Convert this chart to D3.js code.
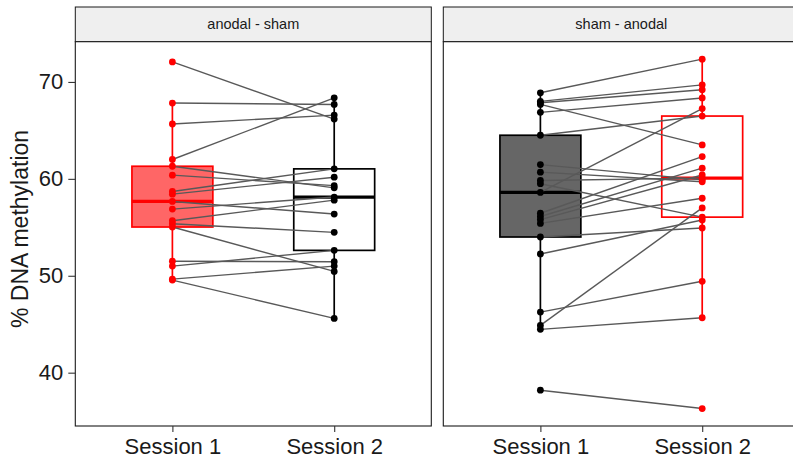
<!DOCTYPE html>
<html>
<head>
<meta charset="utf-8">
<script src="https://cdn.jsdelivr.net/npm/d3@7"></script>
<style>
  html, body { margin: 0; padding: 0; background: #fff; }
  svg { display: block; font-family: "Liberation Sans", Arial, Helvetica, sans-serif; }
</style>
</head>
<body>
<svg id="chart" width="793" height="462"></svg>
<script>
// Sessions on the x axis and the two stimulation orders (facets)
const sessions = ["Session 1", "Session 2"];
const groups = ["anodal - sham", "sham - anodal"];
const yTicks = [40, 50, 60, 70];

// % DNA methylation per participant; same index = same participant
const anodalShamS1 = [72.07, 67.82, 65.66, 62.0, 61.3, 60.38, 58.7, 58.42, 57.67, 56.88, 55.68, 55.37, 55.03, 51.5, 51.0, 49.65, 49.55];
const anodalShamS2 = [66.17, 67.68, 66.58, 68.36, 59.07, 59.3, 61.03, 60.17, 56.37, 58.12, 57.8, 54.48, 50.45, 51.45, 52.62, 51.0, 45.6];

const shamAnodalS1 = [68.88, 68.0, 67.85, 67.68, 66.86, 64.5, 61.47, 60.69, 59.83, 59.5, 58.6, 56.45, 56.12, 55.8, 55.4, 54.0, 52.25, 46.25, 44.88, 44.47, 38.19];
const shamAnodalS2 = [72.35, 69.7, 69.2, 63.5, 68.35, 66.48, 59.9, 59.7, 60.07, 56.05, 67.25, 62.3, 61.1, 60.4, 58.0, 54.93, 55.75, 49.43, 57.0, 45.67, 36.3];

const svg = d3.select("#chart");

// layout
const plotTop = 41.7, plotBottom = 426, stripTop = 7;
const panelW = 356;
const panelX = [75.3, 443.3];

const panels = [
  { label: groups[0], values: [anodalShamS1, anodalShamS2],
    stroke: ["#ff0000", "#000000"], fill: ["#ff6666", "#ffffff"] },
  { label: groups[1], values: [shamAnodalS1, shamAnodalS2],
    stroke: ["#000000", "#ff0000"], fill: ["#666666", "#ffffff"] }
];

// shared y scale with 5% expansion of the data range
const all = [].concat(anodalShamS1, anodalShamS2, shamAnodalS1, shamAnodalS2);
const [lo, hi] = d3.extent(all);
const pad = (hi - lo) * 0.05;
const y = d3.scaleLinear().domain([lo - pad, hi + pad]).range([plotBottom, plotTop]);

// x scale within a panel (discrete, 0.6 expansion)
const x = d3.scalePoint().domain(sessions).range([0, panelW]).padding(0.6);
const boxW = x.step() * 0.5;

function boxStats(v) {
  const s = v.slice().sort(d3.ascending);
  const q1 = d3.quantile(s, 0.25), med = d3.quantile(s, 0.5), q3 = d3.quantile(s, 0.75);
  const iqr = q3 - q1;
  const wLo = d3.min(s.filter(d => d >= q1 - 1.5 * iqr));
  const wHi = d3.max(s.filter(d => d <= q3 + 1.5 * iqr));
  return { q1, med, q3, wLo, wHi };
}

panels.forEach((p, pi) => {
  const g = svg.append("g").attr("transform", `translate(${panelX[pi]},0)`);

  // strip
  g.append("rect")
    .attr("x", 0).attr("y", stripTop)
    .attr("width", panelW).attr("height", plotTop - stripTop)
    .attr("fill", "#efefef").attr("stroke", "#1a1a1a").attr("stroke-width", 1);
  g.append("text")
    .attr("x", panelW / 2).attr("y", (stripTop + plotTop) / 2)
    .attr("dy", "0.35em").attr("text-anchor", "middle")
    .attr("font-size", 14.5).attr("fill", "#1a1a1a")
    .text(p.label);

  // panel background
  g.append("rect")
    .attr("x", 0).attr("y", plotTop)
    .attr("width", panelW).attr("height", plotBottom - plotTop)
    .attr("fill", "#ffffff");

  // boxplots
  sessions.forEach((s, si) => {
    const st = boxStats(p.values[si]);
    const cx = x(s);
    const col = p.stroke[si];
    g.append("line")
      .attr("x1", cx).attr("x2", cx).attr("y1", y(st.wHi)).attr("y2", y(st.q3))
      .attr("stroke", col).attr("stroke-width", 1.7);
    g.append("line")
      .attr("x1", cx).attr("x2", cx).attr("y1", y(st.q1)).attr("y2", y(st.wLo))
      .attr("stroke", col).attr("stroke-width", 1.7);
    g.append("rect")
      .attr("x", cx - boxW / 2).attr("y", y(st.q3))
      .attr("width", boxW).attr("height", y(st.q1) - y(st.q3))
      .attr("fill", p.fill[si]).attr("stroke", col).attr("stroke-width", 1.7);
    g.append("line")
      .attr("x1", cx - boxW / 2).attr("x2", cx + boxW / 2)
      .attr("y1", y(st.med)).attr("y2", y(st.med))
      .attr("stroke", col).attr("stroke-width", 3.2);
  });

  // paired lines
  const pairs = p.values[0].map((v, i) => [v, p.values[1][i]]);
  g.append("g").selectAll("line").data(pairs).join("line")
    .attr("x1", x(sessions[0])).attr("x2", x(sessions[1]))
    .attr("y1", d => y(d[0])).attr("y2", d => y(d[1]))
    .attr("stroke", "#595959").attr("stroke-width", 1.4);

  // points
  sessions.forEach((s, si) => {
    g.append("g").selectAll("circle").data(p.values[si]).join("circle")
      .attr("cx", x(s)).attr("cy", d => y(d)).attr("r", 3.4)
      .attr("fill", p.stroke[si]);
  });

  // panel border
  g.append("rect")
    .attr("x", 0).attr("y", plotTop)
    .attr("width", panelW).attr("height", plotBottom - plotTop)
    .attr("fill", "none").attr("stroke", "#1a1a1a").attr("stroke-width", 1.1);

  // x axis
  const xa = g.append("g").attr("transform", `translate(0,${plotBottom})`)
    .call(d3.axisBottom(x).tickSize(6).tickPadding(6));
  xa.select(".domain").remove();
  xa.selectAll("line").attr("stroke", "#333").attr("stroke-width", 1.1);
  xa.selectAll("text").attr("font-size", 22).attr("fill", "#1a1a1a")
    .attr("font-family", "Liberation Sans, Arial, sans-serif");

  // y axis on the first panel
  if (pi === 0) {
    const ya = g.append("g")
      .call(d3.axisLeft(y).tickValues(yTicks).tickSize(7).tickPadding(5));
    ya.select(".domain").remove();
    ya.selectAll("line").attr("stroke", "#333").attr("stroke-width", 1.1);
    ya.selectAll("text").attr("font-size", 22).attr("fill", "#1a1a1a")
      .attr("font-family", "Liberation Sans, Arial, sans-serif");
  }
});

// y axis title
svg.append("text")
  .attr("transform", `translate(28,229) rotate(-90)`)
  .attr("text-anchor", "middle")
  .attr("font-size", 23).attr("fill", "#1a1a1a")
  .text("% DNA methylation");
</script>
</body>
</html>
